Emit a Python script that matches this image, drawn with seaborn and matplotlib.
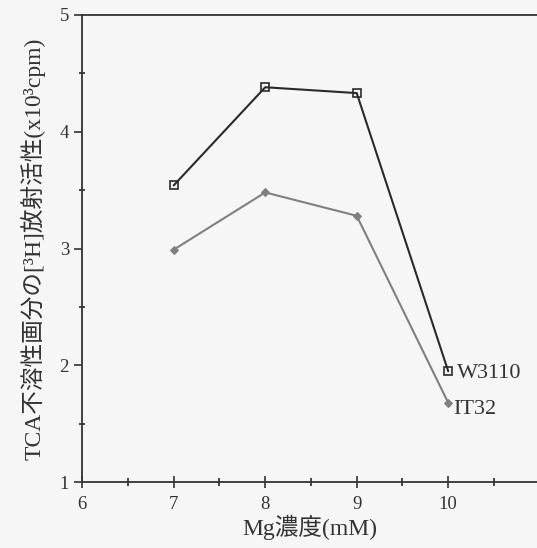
import matplotlib
matplotlib.use("Agg")
import matplotlib.pyplot as plt
from matplotlib.ticker import MultipleLocator
import seaborn as sns
import pandas as pd

mg = [7, 8, 9, 10]
w3110 = [3.54, 4.38, 4.33, 1.95]
it32 = [2.99, 3.48, 3.28, 1.68]
series_names = ["W3110", "IT32"]
xticks = [6, 7, 8, 9, 10]
yticks = [1, 2, 3, 4, 5]

sns.set_style("ticks")
plt.rcParams["font.family"] = ["Liberation Serif", "Noto Sans CJK JP"]

df = pd.DataFrame({
    "mg": mg * 2,
    "val": w3110 + it32,
    "strain": [series_names[0]] * 4 + [series_names[1]] * 4,
})

fig = plt.figure(figsize=(5.37, 5.48), dpi=100, facecolor="#f6f6f6")
ax = fig.add_axes([0.153, 0.120, 0.847, 0.853])
ax.set_facecolor("#f6f6f6")

sns.lineplot(data=df, x="mg", y="val", hue="strain", style="strain",
             palette={"W3110": "#2a2a2a", "IT32": "#808080"},
             markers={"W3110": "s", "IT32": "D"},
             dashes=False, legend=False, ax=ax, linewidth=1.5)
for line in ax.get_lines():
    if line.get_color() == "#2a2a2a":
        line.set_markerfacecolor("none")
        line.set_markeredgecolor("#2a2a2a")
        line.set_markersize(6)
        line.set_markeredgewidth(1.2)
    else:
        line.set_markerfacecolor("#808080")
        line.set_markeredgecolor("#808080")
        line.set_markersize(4.5)

ax.text(10.1, w3110[-1] - 0.02, series_names[0], fontsize=16, va="center", ha="left", color="#333333")
ax.text(10.06, it32[-1] - 0.06, series_names[1], fontsize=16, va="center", ha="left", color="#333333")

ax.set_xlim(6, 10.97)
ax.set_ylim(1, 5)
ax.set_xticks(xticks)
ax.set_yticks(yticks)
ax.xaxis.set_minor_locator(MultipleLocator(0.5))
ax.yaxis.set_minor_locator(MultipleLocator(0.5))
ax.tick_params(axis="x", which="major", direction="inout", length=8, width=1.2, labelsize=13.5, colors="#333333", pad=6)
ax.tick_params(axis="x", which="minor", direction="inout", length=6, width=1.2)
ax.tick_params(axis="y", which="major", direction="out", length=6, width=1.2, labelsize=13.5, colors="#333333")
ax.tick_params(axis="y", which="minor", direction="inout", length=5, width=1.2)

for s in ["left", "bottom", "top"]:
    ax.spines[s].set_color("#333333")
    ax.spines[s].set_linewidth(1.3)
ax.spines["right"].set_visible(False)

ax.set_xlabel("Mg濃度(mM)", fontsize=17, color="#333333", labelpad=1)
ax.set_ylabel("TCA不溶性画分の[³H]放射活性(x10³cpm)", fontsize=17, color="#333333", labelpad=10)

fig.savefig("out.png", dpi=100, facecolor=fig.get_facecolor())
